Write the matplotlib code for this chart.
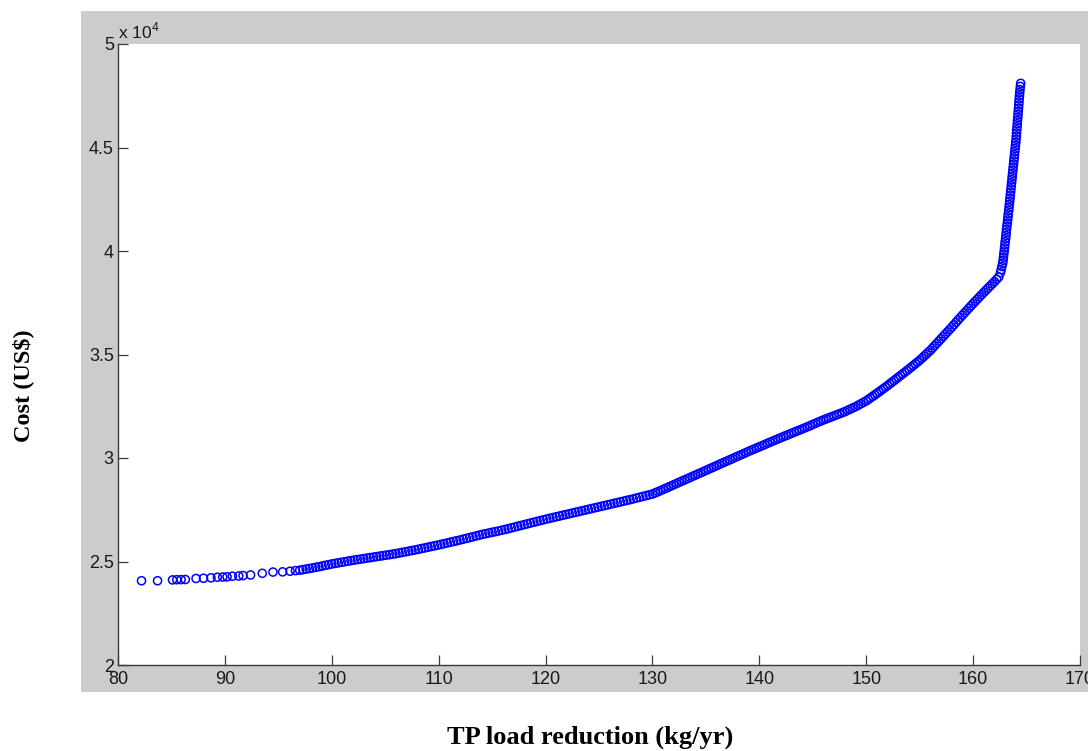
import matplotlib.pyplot as plt
from matplotlib.patches import Rectangle
from matplotlib.ticker import FuncFormatter, MultipleLocator

plt.rcParams['font.family'] = ['Liberation Sans', 'DejaVu Sans']
plt.rcParams['mathtext.fontset'] = 'custom'
plt.rcParams['mathtext.rm'] = 'Liberation Sans'

# sparse low-reduction end of the front
tail_x = [82.2, 83.7, 85.1, 85.5, 85.9, 86.3, 87.3, 88.0, 88.7, 89.3, 89.8,
          90.2, 90.7, 91.3, 91.7, 92.4, 93.5, 94.5, 95.4, 96.1, 96.6]
tail_cost = [24070, 24070, 24110, 24120, 24125, 24130, 24180, 24190, 24210, 24240, 24250,
             24260, 24290, 24300, 24320, 24350, 24430, 24490, 24500, 24530, 24560]

# dense part up to the first kink (~130 kg/yr)
low_x = [97.0, 97.3, 97.6, 97.9, 98.2, 98.5, 98.8, 99.1, 99.4, 99.7,
         100.0, 100.3, 100.6, 100.9, 101.2, 101.5, 101.8, 102.1, 102.4, 102.7,
         103.0, 103.3, 103.6, 103.9, 104.2, 104.5, 104.8, 105.1, 105.4, 105.7,
         106.0, 106.3, 106.6, 106.9, 107.2, 107.5, 107.8, 108.1, 108.4, 108.7,
         109.0, 109.3, 109.6, 109.9, 110.2, 110.5, 110.8, 111.1, 111.4, 111.7,
         112.0, 112.3, 112.6, 112.9, 113.2, 113.5, 113.8, 114.1, 114.4, 114.7,
         115.0, 115.3, 115.6, 115.9, 116.2, 116.5, 116.8, 117.1, 117.4, 117.7,
         118.0, 118.3, 118.6, 118.9, 119.2, 119.5, 119.8, 120.1, 120.4, 120.7,
         121.0, 121.3, 121.6, 121.9, 122.2, 122.5, 122.8, 123.1, 123.4, 123.7,
         124.0, 124.3, 124.6, 124.9, 125.2, 125.5, 125.8, 126.1, 126.4, 126.7,
         127.0, 127.3, 127.6, 127.9, 128.2, 128.5, 128.8, 129.1, 129.4, 129.7,
         130.0]
low_cost = [24580, 24607, 24634, 24661, 24690, 24720, 24750, 24781, 24814, 24847,
            24880, 24907, 24934, 24961, 24988, 25015, 25042, 25068, 25092, 25116,
            25140, 25164, 25188, 25212, 25236, 25260, 25284, 25308, 25332, 25356,
            25380, 25410, 25440, 25470, 25500, 25530, 25560, 25591, 25624, 25657,
            25690, 25723, 25756, 25789, 25824, 25860, 25896, 25932, 25968, 26004,
            26040, 26079, 26118, 26157, 26196, 26235, 26274, 26311, 26344, 26377,
            26410, 26443, 26476, 26509, 26546, 26585, 26624, 26663, 26702, 26741,
            26780, 26819, 26858, 26897, 26936, 26975, 27014, 27052, 27088, 27124,
            27160, 27196, 27232, 27268, 27304, 27340, 27376, 27412, 27448, 27484,
            27520, 27556, 27592, 27628, 27664, 27700, 27736, 27772, 27808, 27844,
            27880, 27916, 27952, 27988, 28026, 28065, 28104, 28143, 28182, 28221,
            28260]

# 130 -> 150 kg/yr
mid_x = [130.25, 130.5, 130.75,
         131.0, 131.25, 131.5, 131.75, 132.0, 132.25, 132.5, 132.75,
         133.0, 133.25, 133.5, 133.75, 134.0, 134.25, 134.5, 134.75,
         135.0, 135.25, 135.5, 135.75, 136.0, 136.25, 136.5, 136.75,
         137.0, 137.25, 137.5, 137.75, 138.0, 138.25, 138.5, 138.75,
         139.0, 139.25, 139.5, 139.75, 140.0, 140.25, 140.5, 140.75,
         141.0, 141.25, 141.5, 141.75, 142.0, 142.25, 142.5, 142.75,
         143.0, 143.25, 143.5, 143.75, 144.0, 144.25, 144.5, 144.75,
         145.0, 145.25, 145.5, 145.75, 146.0, 146.25, 146.5, 146.75,
         147.0, 147.25, 147.5, 147.75, 148.0, 148.25, 148.5, 148.75,
         149.0, 149.25, 149.5, 149.75, 150.0]
mid_cost = [28315, 28370, 28425,
            28480, 28538, 28595, 28653, 28710, 28768, 28825, 28883,
            28940, 28998, 29055, 29113, 29170, 29228, 29285, 29343,
            29400, 29458, 29515, 29573, 29630, 29688, 29745, 29803,
            29860, 29918, 29975, 30033, 30090, 30148, 30205, 30263,
            30320, 30375, 30430, 30485, 30540, 30595, 30650, 30705,
            30760, 30815, 30870, 30925, 30980, 31033, 31085, 31138,
            31190, 31243, 31295, 31348, 31400, 31455, 31510, 31565,
            31620, 31675, 31730, 31785, 31840, 31890, 31940, 31990,
            32040, 32090, 32140, 32190, 32240, 32300, 32360, 32420,
            32480, 32550, 32620, 32690, 32760]

# bend towards the second kink (~162.5 kg/yr)
bend_x = [150.2, 150.4, 150.6, 150.8,
          151.0, 151.2, 151.4, 151.6, 151.8, 152.0, 152.2, 152.4, 152.6, 152.8,
          153.0, 153.2, 153.4, 153.6, 153.8, 154.0, 154.2, 154.4, 154.6, 154.8,
          155.0, 155.2, 155.4, 155.6, 155.8, 156.0, 156.2, 156.4, 156.6, 156.8,
          157.0, 157.2, 157.4, 157.6, 157.8, 158.0, 158.2, 158.4, 158.6, 158.8,
          159.0, 159.2, 159.4, 159.6, 159.8, 160.0, 160.2, 160.4, 160.6, 160.8,
          161.0, 161.2, 161.4, 161.6, 161.8, 162.0, 162.2, 162.4]
bend_cost = [32832, 32904, 32976, 33048,
             33120, 33196, 33272, 33348, 33424, 33500, 33580, 33660, 33740, 33820,
             33900, 33980, 34060, 34140, 34220, 34300, 34384, 34468, 34552, 34636,
             34720, 34816, 34912, 35008, 35104, 35200, 35312, 35424, 35536, 35648,
             35760, 35872, 35984, 36096, 36208, 36320, 36436, 36552, 36668, 36784,
             36900, 37012, 37124, 37236, 37348, 37460, 37568, 37676, 37784, 37892,
             38000, 38104, 38208, 38312, 38416, 38520, 38632, 38744]

# near-vertical top end
steep_x = [162.56, 162.63, 162.69, 162.76, 162.81, 162.84, 162.87, 162.91, 162.94, 162.97,
           163.00, 163.04, 163.07, 163.10, 163.13, 163.16, 163.20, 163.23, 163.26, 163.29,
           163.33, 163.36, 163.39, 163.42, 163.45, 163.48, 163.51, 163.54, 163.57, 163.60,
           163.63, 163.66, 163.69, 163.72, 163.75, 163.78, 163.81, 163.84, 163.87, 163.90,
           163.93, 163.96, 163.99, 164.02, 164.04, 164.06, 164.08, 164.11, 164.13, 164.15,
           164.18, 164.20, 164.22, 164.25, 164.27, 164.29, 164.31, 164.34, 164.36, 164.39,
           164.42, 164.45]
steep_cost = [38950, 39100, 39250, 39400, 39550, 39700, 39850, 40000, 40150, 40300,
              40450, 40600, 40750, 40900, 41050, 41200, 41350, 41500, 41650, 41800,
              41950, 42100, 42250, 42400, 42550, 42700, 42850, 43000, 43150, 43300,
              43450, 43600, 43750, 43900, 44050, 44200, 44350, 44500, 44650, 44800,
              44950, 45100, 45250, 45400, 45550, 45700, 45850, 46000, 46150, 46300,
              46450, 46600, 46750, 46900, 47050, 47200, 47350, 47500, 47650, 47800,
              47950, 48100]

tp_reduction = tail_x + low_x + mid_x + bend_x + steep_x
cost = tail_cost + low_cost + mid_cost + bend_cost + steep_cost

W, H = 1088, 751
fig = plt.figure(figsize=(W / 100, H / 100), dpi=100)
fig.patch.set_facecolor('white')

# grey matlab-like figure panel
fig.patches.append(Rectangle((81 / W, 1 - 692 / H), (W - 81) / W, (692 - 11) / H,
                             transform=fig.transFigure, facecolor='#cccccc',
                             edgecolor='none', zorder=-1))

ax = fig.add_axes([118 / W, 1 - 665 / H, (1080 - 118) / W, (665 - 44) / H])
ax.set_facecolor('white')

ax.scatter(tp_reduction, cost, s=34, facecolors='none', edgecolors='#0000ff',
           linewidths=1.1, clip_on=False)

ax.set_xlim(80, 170)
ax.set_ylim(20000, 50000)
ax.xaxis.set_major_locator(MultipleLocator(10))
ax.yaxis.set_major_locator(MultipleLocator(5000))
ax.yaxis.set_major_formatter(FuncFormatter(lambda v, p: f'{v / 1e4:g}'))

for s in ['top', 'right']:
    ax.spines[s].set_visible(False)
for s in ['left', 'bottom']:
    ax.spines[s].set_color('#3a3a3a')
    ax.spines[s].set_linewidth(1.0)

ax.tick_params(direction='in', length=7, width=0.9, color='#3a3a3a',
               labelsize=13, labelcolor='#1a1a1a')
ax.tick_params(axis='x', pad=4.5)
ax.tick_params(axis='y', pad=3)

ax.text(0.0, 1.004, r'x 10$^{4}$', transform=ax.transAxes, ha='left', va='bottom',
        fontsize=12.5, color='#1a1a1a')

fig.text(590 / W, 1 - 744 / H, 'TP load reduction (kg/yr)', ha='center', va='baseline',
         fontfamily='Liberation Serif', fontweight='bold', fontsize=19)
fig.text(23 / W, 1 - 386 / H, r'Cost (US\$)', ha='center', va='center', rotation=90,
         fontfamily='Liberation Serif', fontweight='bold', fontsize=17.5)

fig.savefig('out.png', dpi=100)
